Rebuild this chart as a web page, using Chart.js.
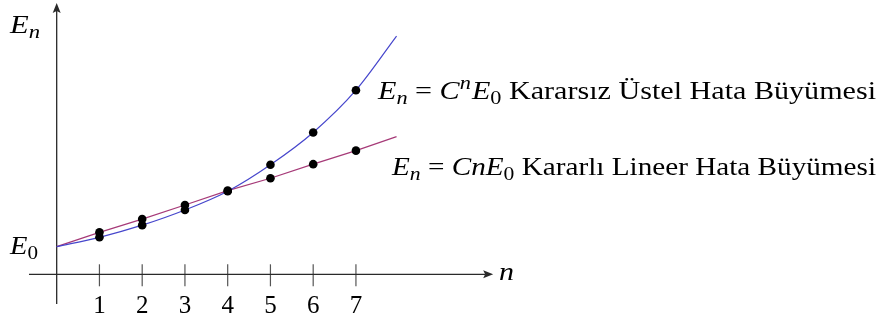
<!DOCTYPE html>
<html>
<head>
<meta charset="utf-8">
<script src="https://cdn.jsdelivr.net/npm/chart.js@4"></script>
<style>
  html, body { margin: 0; padding: 0; background: #ffffff; }
  canvas { display: block; }
</style>
</head>
<body>
<canvas id="c" width="896" height="320"></canvas>
<script>
// Iteration number n and the error after each step (in units of E0)
const steps = [1, 2, 3, 4, 5, 6, 7];
const initialError = 1;                                   // E0
const unstableError = [1.34, 1.78, 2.33, 3.01, 3.97, 5.14, 6.67]; // En = C^n E0
const stableError = [1.52, 2.00, 2.51, 3.03, 3.48, 3.99, 4.48];   // En = C n E0
// where the drawn curves stop on the right
const curveEndN = 7.95;
const unstableEnd = 8.63;
const stableEnd = 4.99;
const tickLabels = ['1', '2', '3', '4', '5', '6', '7'];

const SERIF = '"Liberation Serif", "Times New Roman", serif';

const pts = (xs, ys) => xs.map((x, i) => ({ x: x, y: ys[i] }));
const unstableCurve = [{ x: 0, y: initialError }, ...pts(steps, unstableError), { x: curveEndN, y: unstableEnd }];
const stableCurve = [{ x: 0, y: initialError }, ...pts(steps, stableError), { x: curveEndN, y: stableEnd }];

// draw a run of text pieces (italic / sub / superscript), optionally stretched to a right edge
function drawRich(ctx, segs, x, y, size, right) {
  const fontOf = s => {
    const sz = (s.sub || s.sup) ? size * 0.74 : size;
    return (s.it ? 'italic ' : '') + sz + 'px ' + SERIF;
  };
  let w = 0;
  segs.forEach(s => { ctx.font = fontOf(s); w += ctx.measureText(s.t).width + (s.gap || 0); });
  const sx = right ? (right - x) / w : 1;
  ctx.save();
  ctx.translate(x, y);
  ctx.scale(sx, 1);
  ctx.fillStyle = '#000';
  ctx.textBaseline = 'alphabetic';
  ctx.textAlign = 'left';
  let cx = 0;
  segs.forEach(s => {
    ctx.font = fontOf(s);
    const dy = s.sub ? size * 0.2 : (s.sup ? -size * 0.38 : 0);
    ctx.fillText(s.t, cx, dy);
    cx += ctx.measureText(s.t).width + (s.gap || 0);
  });
  ctx.restore();
}

const axesPlugin = {
  id: 'axes',
  beforeDatasetsDraw(chart) {
    const ctx = chart.ctx;
    const xs = chart.scales.x, ys = chart.scales.y;
    const ox = xs.getPixelForValue(0), oy = ys.getPixelForValue(0);
    const left = xs.getPixelForValue(-0.648);
    const tipX = xs.getPixelForValue(10.21);
    const bottom = ys.getPixelForValue(-1.076);
    const tipY = ys.getPixelForValue(9.83);
    ctx.save();
    // tick marks
    ctx.strokeStyle = '#555';
    ctx.lineWidth = 1.2;
    steps.forEach(n => {
      const px = xs.getPixelForValue(n);
      ctx.beginPath();
      ctx.moveTo(px, oy - 10);
      ctx.lineTo(px, oy + 12);
      ctx.stroke();
    });
    // axes
    ctx.strokeStyle = '#2a2a2a';
    ctx.fillStyle = '#2a2a2a';
    ctx.lineWidth = 1.3;
    ctx.beginPath();
    ctx.moveTo(left, oy); ctx.lineTo(tipX - 8, oy);
    ctx.moveTo(ox, bottom); ctx.lineTo(ox, tipY + 8);
    ctx.stroke();
    // arrow heads
    ctx.beginPath();
    ctx.moveTo(tipX, oy); ctx.lineTo(tipX - 10, oy - 4); ctx.lineTo(tipX - 8, oy); ctx.lineTo(tipX - 10, oy + 4);
    ctx.closePath(); ctx.fill();
    ctx.beginPath();
    ctx.moveTo(ox, tipY); ctx.lineTo(ox - 4, tipY + 10); ctx.lineTo(ox, tipY + 8); ctx.lineTo(ox + 4, tipY + 10);
    ctx.closePath(); ctx.fill();
    ctx.restore();
  },
  afterDraw(chart) {
    const ctx = chart.ctx;
    const xs = chart.scales.x, ys = chart.scales.y;
    const oy = ys.getPixelForValue(0);
    ctx.save();
    // tick labels
    ctx.font = '25px ' + SERIF;
    ctx.fillStyle = '#000';
    ctx.textAlign = 'center';
    ctx.textBaseline = 'alphabetic';
    tickLabels.forEach((t, i) => ctx.fillText(t, xs.getPixelForValue(steps[i]), oy + 38.5));
    ctx.restore();
    // axis labels
    drawRich(ctx, [{ t: 'E', it: true, gap: 0 }, { t: 'n', it: true, sub: true }], 10, 32.7, 26, 40);
    drawRich(ctx, [{ t: 'E', it: true, gap: 0 }, { t: '0', sub: true }], 10, ys.getPixelForValue(initialError) + 7.5, 26, 38);
    drawRich(ctx, [{ t: 'n', it: true }], 499, oy + 6, 26, 514);
    // curve descriptions
    drawRich(ctx, [
      { t: 'E', it: true, gap: 0 }, { t: 'n', it: true, sub: true }, { t: ' = ' },
      { t: 'C', it: true }, { t: 'n', it: true, sup: true, gap: 1 },
      { t: 'E', it: true, gap: 0 }, { t: '0', sub: true },
      { t: ' Kararsız Üstel Hata Büyümesi' }
    ], 378, 98.5, 26, 876);
    drawRich(ctx, [
      { t: 'E', it: true, gap: 0 }, { t: 'n', it: true, sub: true }, { t: ' = ' },
      { t: 'C', it: true }, { t: 'n', it: true },
      { t: 'E', it: true, gap: 0 }, { t: '0', sub: true },
      { t: ' Kararlı Lineer Hata Büyümesi' }
    ], 392, 175, 26, 876);
  }
};

new Chart(document.getElementById('c'), {
  type: 'scatter',
  data: {
    datasets: [
      {
        data: unstableCurve, showLine: true, borderColor: '#4646cc', borderWidth: 1.2,
        pointRadius: 0, cubicInterpolationMode: 'monotone', order: 3
      },
      {
        data: stableCurve, showLine: true, borderColor: '#a63a78', borderWidth: 1.2,
        pointRadius: 0, order: 3
      },
      {
        data: pts(steps, unstableError), showLine: false, pointRadius: 4.3,
        backgroundColor: '#000', borderColor: '#000', borderWidth: 0, order: 1
      },
      {
        data: pts(steps, stableError), showLine: false, pointRadius: 4.3,
        backgroundColor: '#000', borderColor: '#000', borderWidth: 0, order: 1
      }
    ]
  },
  options: {
    responsive: false,
    animation: false,
    layout: { padding: 0, autoPadding: false },
    plugins: { legend: { display: false }, tooltip: { enabled: false } },
    scales: {
      x: { type: 'linear', display: false, min: -1.326, max: 19.633 },
      y: { type: 'linear', display: false, min: -1.656, max: 9.938 }
    }
  },
  plugins: [axesPlugin]
});
</script>
</body>
</html>
